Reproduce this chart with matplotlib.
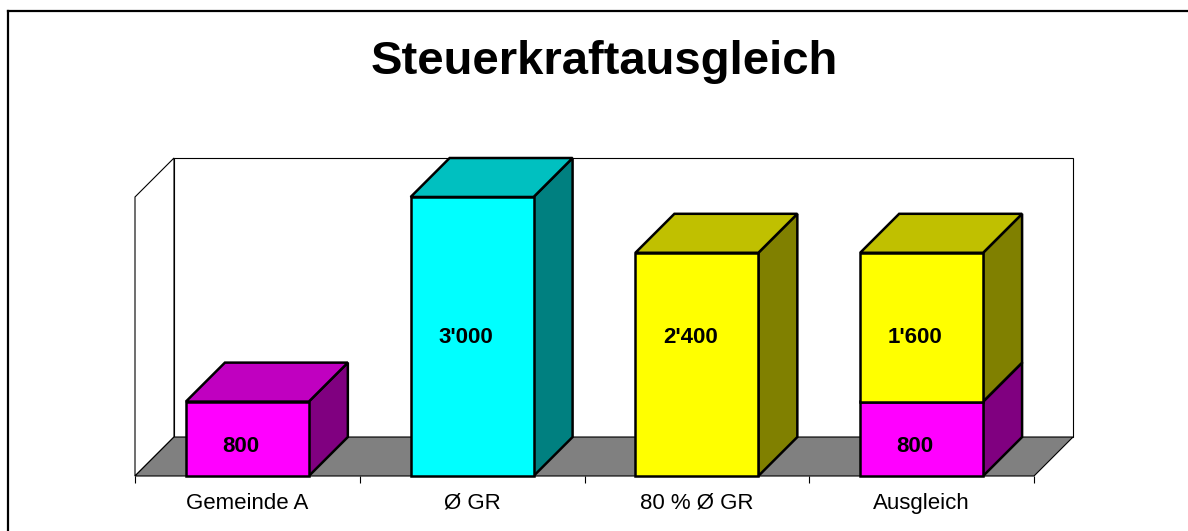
import matplotlib
matplotlib.use("Agg")
import matplotlib.pyplot as plt
from matplotlib.patches import Polygon, Rectangle
import numpy as np

plt.rcParams['font.family'] = ['Liberation Sans', 'DejaVu Sans']

# data
categories = ['Gemeinde A', 'Ø GR', '80 % Ø GR', 'Ausgleich']
gemeinde = [800, 0, 0, 800]        # magenta
durchschnitt = [0, 3000, 0, 0]     # cyan
achtzig = [0, 0, 2400, 1600]       # yellow

series = [
    (gemeinde, ('#FF00FF', '#C000C0', '#800080'), 312),
    (durchschnitt, ('#00FFFF', '#00C0C0', '#008080'), 1484),
    (achtzig, ('#FFFF00', '#C0C000', '#808000'), 1484),
]

ymax = 3000
n = len(categories)
DX = 0.1735      # depth offset in category units
DY = 419         # depth offset in value units
bar_w = 0.547
bar_off = (1 - bar_w) / 2

W, H = 1188, 531
fig = plt.figure(figsize=(W / 100, H / 100), dpi=100)
ax = fig.add_axes([135 / W, (H - 476) / H, (1073 - 135) / W, (476 - 158) / H])
ax.set_xlim(0, n + DX)
ax.set_ylim(0, ymax + DY)
for s in ax.spines.values():
    s.set_visible(False)
ax.set_yticks([])

# walls and floor
ax.add_patch(Rectangle((DX, DY), n, ymax, facecolor='white', edgecolor='black', lw=0.8,
                       zorder=1, clip_on=False))
ax.add_patch(Polygon([(0, 0), (0, ymax), (DX, ymax + DY), (DX, DY)], closed=True,
                     facecolor='white', edgecolor='black', lw=0.8, zorder=1, clip_on=False))
ax.add_patch(Polygon([(0, 0), (n, 0), (n + DX, DY), (DX, DY)], closed=True,
                     facecolor='#808080', edgecolor='black', lw=0.8, zorder=2, clip_on=False))

# bars
bottom = np.zeros(n)
z = 3
for vals, (front, top, side), label_y in series:
    for i, v in enumerate(vals):
        if v == 0:
            continue
        x0 = i + bar_off
        x1 = x0 + bar_w
        y0 = bottom[i]
        y1 = y0 + v
        kw = dict(edgecolor='black', lw=1.8, joinstyle='miter', zorder=z, clip_on=False)
        ax.add_patch(Polygon([(x1, y0), (x1 + DX, y0 + DY), (x1 + DX, y1 + DY), (x1, y1)],
                             closed=True, facecolor=side, **kw))
        ax.add_patch(Polygon([(x0, y1), (x1, y1), (x1 + DX, y1 + DY), (x0 + DX, y1 + DY)],
                             closed=True, facecolor=top, **kw))
        ax.add_patch(Rectangle((x0, y0), bar_w, v, facecolor=front, **kw))
        ax.text(x0 + bar_w / 2 - 0.03, label_y, f"{v:,}".replace(',', "'"),
                ha='center', va='center', fontsize=16, fontweight='bold', zorder=z + 1)
    bottom += np.array(vals)
    z += 2

# category axis
ax.set_xticks(np.arange(n) + 0.5)
ax.set_xticklabels(categories, fontsize=16)
ax.set_xticks(np.arange(n + 1), minor=True)
ax.tick_params(axis='x', which='major', length=0, pad=12)
ax.tick_params(axis='x', which='minor', length=5, width=0.8, direction='out')

fig.text(604 / W, 1 - 62 / H, 'Steuerkraftausgleich', ha='center', va='center',
         fontsize=34, fontweight='bold')

# frame (top and left only)
fig.add_artist(plt.Line2D([8 / W, 1], [1 - 11 / H, 1 - 11 / H], transform=fig.transFigure,
                          color='black', lw=1.6))
fig.add_artist(plt.Line2D([8 / W, 8 / W], [0, 1 - 11 / H], transform=fig.transFigure,
                          color='black', lw=1.6))

fig.savefig('out.png', dpi=100)
